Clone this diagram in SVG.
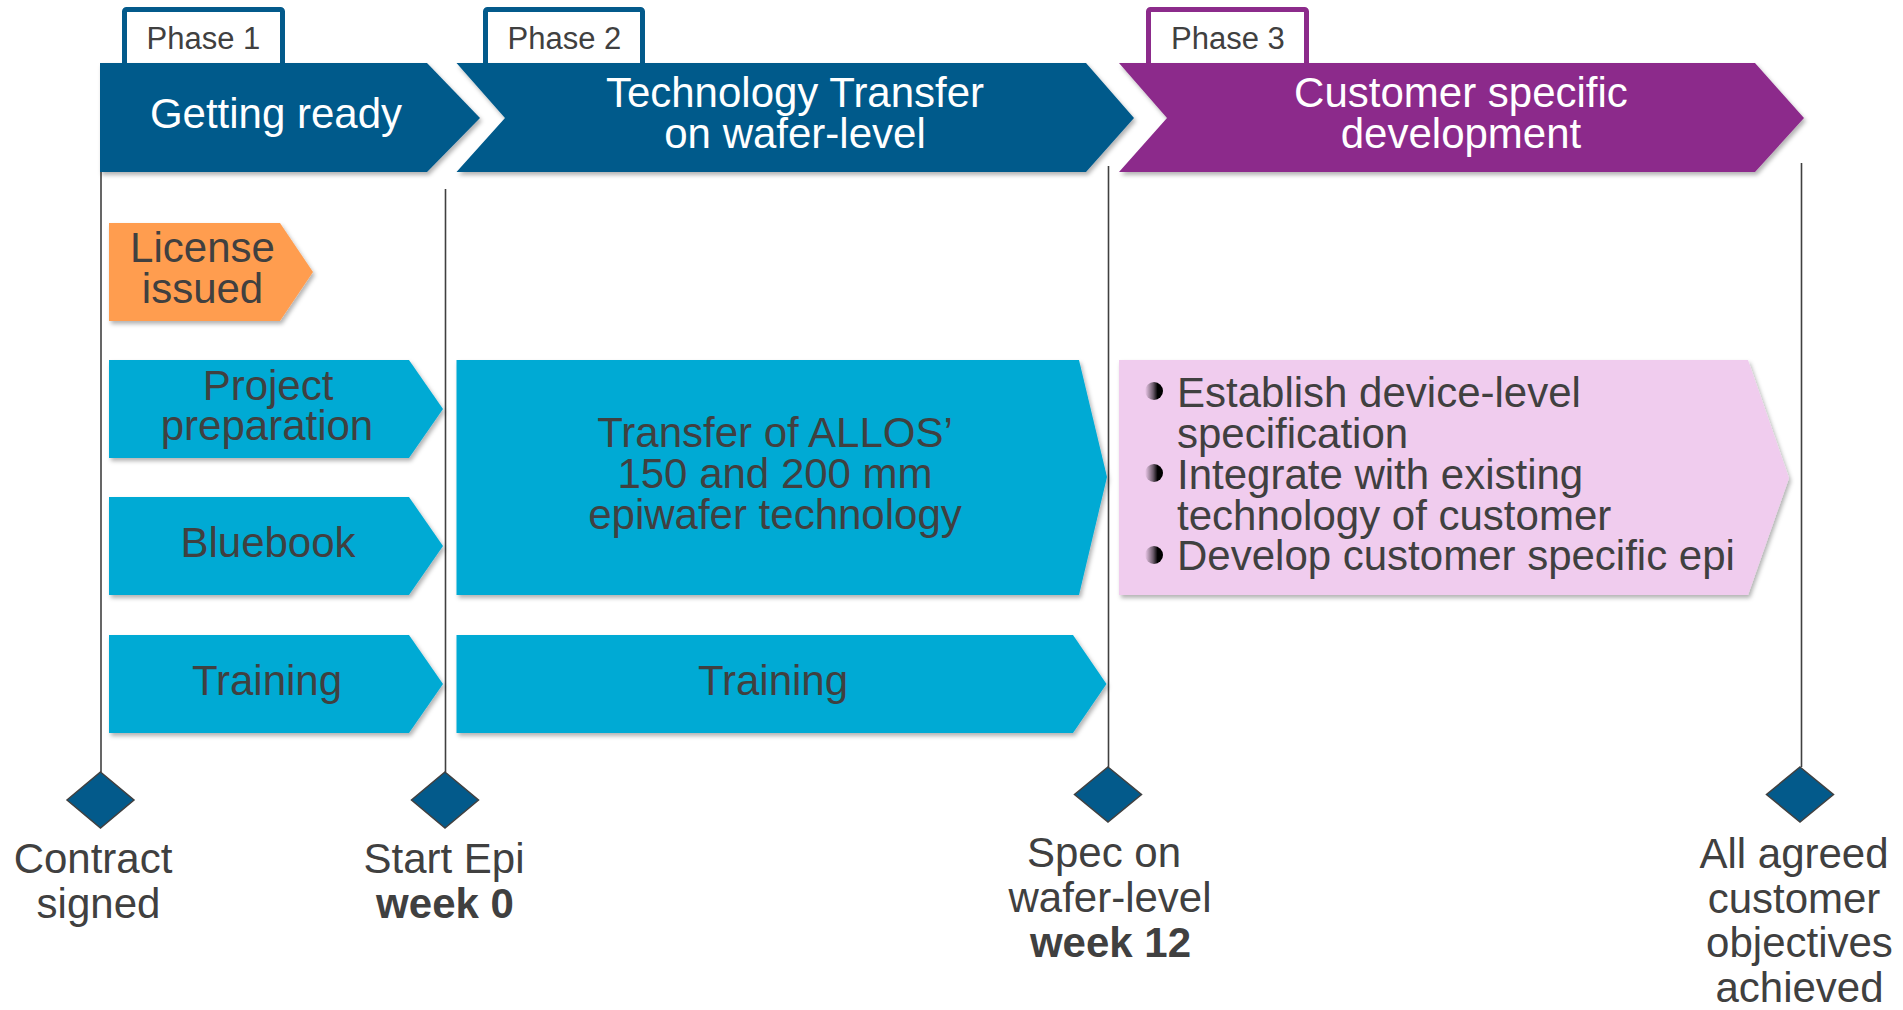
<svg xmlns="http://www.w3.org/2000/svg" width="1903" height="1010" viewBox="0 0 1903 1010">
  <style>
    text { font-family: "Liberation Sans", Arial, sans-serif; }
    .tab { fill: #ffffff; stroke-width: 5; }
    .tab-blue { stroke: #035a8b; }
    .tab-purple { stroke: #8c2b8b; }
    .tab-label { font-size: 31px; fill: #404040; text-anchor: middle; }
    .bar-blue { fill: #035a8b; }
    .bar-purple { fill: #8c2b8b; }
    .bar-title { font-size: 42px; fill: #ffffff; text-anchor: middle; }
    .task { fill: #00aad4; }
    .license { fill: #ff9d50; }
    .custom { fill: #f0ccee; }
    .label { font-size: 42px; fill: #404040; text-anchor: middle; }
    .item { font-size: 42px; fill: #404040; }
    .milestone { fill: #035a8b; stroke: #404040; stroke-width: 1.5; }
    .ms-text { font-size: 42px; fill: #404040; text-anchor: middle; }
    .bold { font-weight: bold; }
    .timeline { stroke: #404040; stroke-width: 1.6; fill: none; }
  </style>
  <defs>
    <filter id="shadow" x="-5%" y="-10%" width="115%" height="130%">
      <feDropShadow dx="2" dy="3" stdDeviation="2" flood-color="#000000" flood-opacity="0.3"/>
    </filter>
    <linearGradient id="ball" x1="0" y1="0" x2="1" y2="0">
      <stop offset="0" stop-color="#000000" stop-opacity="0"/>
      <stop offset="0.45" stop-color="#000000" stop-opacity="0.55"/>
      <stop offset="0.7" stop-color="#000000" stop-opacity="1"/>
    </linearGradient>
  </defs>

  <!-- milestone timelines -->
  <g id="connectors">
    <line class="timeline" x1="101" y1="172" x2="101" y2="772"/>
    <line class="timeline" x1="445.5" y1="189" x2="445.5" y2="772"/>
    <line class="timeline" x1="1108.5" y1="166" x2="1108.5" y2="767"/>
    <line class="timeline" x1="1801.5" y1="163" x2="1801.5" y2="767"/>
  </g>

  <!-- phase headers -->
  <g id="phase1">
    <rect class="tab tab-blue" x="124.5" y="9.5" width="158" height="60" rx="2"/>
    <text class="tab-label" x="203.5" y="49">Phase 1</text>
    <polygon class="bar-blue" filter="url(#shadow)" points="100,63 427,63 480,118 427,172 100,172"/>
    <text class="bar-title" x="276" y="128">Getting ready</text>
  </g>
  <g id="phase2">
    <rect class="tab tab-blue" x="485.5" y="9.5" width="157" height="60" rx="2"/>
    <text class="tab-label" x="564.5" y="49">Phase 2</text>
    <polygon class="bar-blue" filter="url(#shadow)" points="456.5,63 1086,63 1134,118 1086,172 456.5,172 505,118"/>
    <text class="bar-title" x="795" y="107">Technology Transfer</text>
    <text class="bar-title" x="795" y="148">on wafer-level</text>
  </g>
  <g id="phase3">
    <rect class="tab tab-purple" x="1148.5" y="9.5" width="158" height="60" rx="2"/>
    <text class="tab-label" x="1228" y="49">Phase 3</text>
    <polygon class="bar-purple" filter="url(#shadow)" points="1119,63 1755,63 1804,118 1755,172 1119,172 1167,118"/>
    <text class="bar-title" x="1461" y="107">Customer specific</text>
    <text class="bar-title" x="1461" y="148">development</text>
  </g>

  <!-- activities -->
  <g id="license-issued">
    <polygon class="license" filter="url(#shadow)" points="109,223 280,223 313,272 280,321 109,321"/>
    <text class="label" x="202.5" y="262">License</text>
    <text class="label" x="202.5" y="303">issued</text>
  </g>
  <g id="project-preparation">
    <polygon class="task" filter="url(#shadow)" points="109,360 409,360 443,409 409,458 109,458"/>
    <text class="label" x="268" y="400">Project</text>
    <text class="label" x="267" y="440">preparation</text>
  </g>
  <g id="bluebook">
    <polygon class="task" filter="url(#shadow)" points="109,497 409,497 443,546 409,595 109,595"/>
    <text class="label" x="268" y="557">Bluebook</text>
  </g>
  <g id="training-1">
    <polygon class="task" filter="url(#shadow)" points="109,635 409,635 443,684 409,733 109,733"/>
    <text class="label" x="267" y="695">Training</text>
  </g>
  <g id="technology-transfer">
    <polygon class="task" filter="url(#shadow)" points="456.5,360 1079,360 1107,477 1079,595 456.5,595"/>
    <text class="label" x="775" y="447">Transfer of ALLOS’</text>
    <text class="label" x="775" y="488">150 and 200 mm</text>
    <text class="label" x="775" y="529">epiwafer technology</text>
  </g>
  <g id="training-2">
    <polygon class="task" filter="url(#shadow)" points="456.5,635 1073,635 1106.5,684 1073,733 456.5,733"/>
    <text class="label" x="773" y="695">Training</text>
  </g>
  <g id="customer-development">
    <polygon class="custom" filter="url(#shadow)" points="1119,360 1748,360 1789,478 1748,595 1119,595"/>
    <circle cx="1154" cy="391" r="9" fill="url(#ball)"/>
    <circle cx="1154" cy="473" r="9" fill="url(#ball)"/>
    <circle cx="1154" cy="555" r="9" fill="url(#ball)"/>
    <text class="item" x="1177" y="407">Establish device-level</text>
    <text class="item" x="1177" y="448">specification</text>
    <text class="item" x="1177" y="489">Integrate with existing</text>
    <text class="item" x="1177" y="530">technology of customer</text>
    <text class="item" x="1177" y="570">Develop customer specific epi</text>
  </g>

  <!-- milestones -->
  <g id="ms-contract">
    <polygon class="milestone" points="100.5,772 134,800 100.5,828 67,800"/>
    <text class="ms-text" x="93" y="873">Contract</text>
    <text class="ms-text" x="98.5" y="918">signed</text>
  </g>
  <g id="ms-start-epi">
    <polygon class="milestone" points="445,772 478.5,800 445,828 411.5,800"/>
    <text class="ms-text" x="444" y="873">Start Epi</text>
    <text class="ms-text bold" x="445" y="918">week 0</text>
  </g>
  <g id="ms-spec">
    <polygon class="milestone" points="1108,767 1141.5,794.5 1108,822 1074.5,794.5"/>
    <text class="ms-text" x="1104" y="867">Spec on</text>
    <text class="ms-text" x="1110" y="912">wafer-level</text>
    <text class="ms-text bold" x="1110.5" y="957">week 12</text>
  </g>
  <g id="ms-objectives">
    <polygon class="milestone" points="1800,767 1833.5,794.5 1800,822 1766.5,794.5"/>
    <text class="ms-text" x="1794" y="868">All agreed</text>
    <text class="ms-text" x="1794" y="913">customer</text>
    <text class="ms-text" x="1799.5" y="957">objectives</text>
    <text class="ms-text" x="1799.5" y="1002">achieved</text>
  </g>
</svg>
